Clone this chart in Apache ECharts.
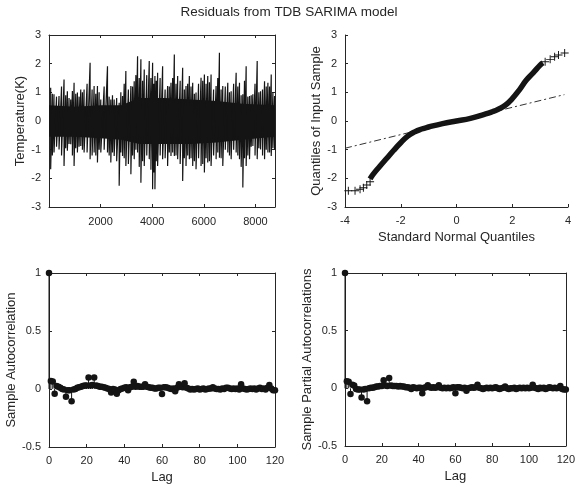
<!DOCTYPE html>
<html><head><meta charset="utf-8">
<script src="https://cdn.jsdelivr.net/npm/echarts@6/dist/echarts.min.js"></script>
<style>html,body{margin:0;padding:0;background:#fff}#c{width:578px;height:488px}</style>
</head><body><div id="c"></div>
<script>
// ---- Panel 1: residual time series (envelope) ----
const tsHour = [65,194,389,583,712,842,972,1101,1231,1360,1593,1749,1878,2008,2267,2396,2526,2720,2850,2979,3174,3303,3433,3562,3692,3886,4016,4106,4210,4404,4598,4728,4858,4987,5181,5311,5440,5570,5699,5894,6023,6153,6282,6477,6606,6736,6930,7060,7254,7383,7513,7642,7772,7902,8070,8199,8355,8485,8614,8744];
const tsHigh = [1.16,0.93,0.87,1.45,1.04,0.75,1.33,0.99,1.10,1.10,2.03,1.22,1.22,0.75,1.91,0.75,0.75,0.64,0.87,1.74,1.22,1.39,2.26,2.15,1.80,2.09,2.03,1.57,1.68,1.91,1.22,1.33,2.32,1.57,1.86,1.22,1.57,1.33,0.99,1.51,1.62,1.57,1.62,1.22,2.38,1.22,1.33,1.04,1.68,1.33,0.93,1.91,0.87,0.93,2.09,1.04,1.39,1.33,1.62,0.87];
const tsLow  = [-1.68,-1.10,-0.99,-1.57,-1.04,-0.81,-1.57,-1.10,-0.87,-1.10,-1.33,-1.10,-1.45,-1.10,-1.10,-1.45,-1.22,-2.26,-1.22,-1.57,-1.86,-1.33,-1.10,-2.15,-1.57,-1.33,-2.38,-2.38,-1.57,-1.33,-1.57,-1.22,-1.22,-1.33,-2.09,-1.57,-1.33,-1.57,-1.68,-1.57,-1.80,-1.45,-1.57,-1.33,-1.28,-1.57,-1.10,-1.33,-1.10,-1.33,-2.32,-1.57,-1.33,-0.87,-1.33,-0.99,-1.33,-1.10,-1.22,-0.99];
// secondary (smaller) spikes between the readings above
const tsMidHigh = [0.95,0.85,1.2,0.9,0.8,1.05,0.95,0.85,1.0,1.3,1.1,0.95,1.0,1.2,0.85,0.9,0.8,1.0,1.3,1.1,1.2,1.6,1.5,1.4,1.6,1.5,1.3,1.4,1.5,1.1,1.2,1.5,1.3,1.4,1.1,1.3,1.2,0.95,1.3,1.4,1.3,1.35,1.1,1.5,1.1,1.2,1.0,1.3,1.2,0.9,1.4,0.85,0.9,1.3,1.0,1.1,1.2,1.2,1.0];
const tsMidLow  = [-1.2,-0.9,-1.2,-0.95,-0.8,-1.2,-0.95,-0.9,-1.0,-1.1,-1.2,-1.2,-1.0,-1.0,-1.2,-1.1,-1.4,-1.1,-1.3,-1.5,-1.2,-1.0,-1.6,-1.4,-1.2,-1.7,-1.8,-1.4,-1.2,-1.3,-1.1,-1.1,-1.2,-1.5,-1.3,-1.2,-1.3,-1.4,-1.3,-1.5,-1.3,-1.4,-1.2,-1.1,-1.3,-1.0,-1.2,-1.0,-1.2,-1.6,-1.3,-1.2,-0.9,-1.2,-0.95,-1.2,-1.0,-1.1,-0.95];
const coreHour = [0,1000,2000,2800,3500,4500,5500,6500,7500,8760];
const coreHigh = [0.55,0.5,0.55,0.55,0.8,0.8,0.75,0.7,0.6,0.55];
const coreLow  = [-0.55,-0.55,-0.6,-0.65,-0.8,-0.8,-0.8,-0.75,-0.65,-0.55];

// ---- Panel 2: QQ plot ----
const qqX = [-3.1,-3.0,-2.75,-2.5,-2.25,-2.0,-1.75,-1.5,-1.25,-1.0,-0.5,0,0.5,1.0,1.25,1.5,1.75,2.0,2.25,2.5,2.75,3.0,3.1];
const qqY = [-2.02,-1.87,-1.58,-1.30,-1.02,-0.76,-0.53,-0.38,-0.28,-0.21,-0.09,0.0,0.09,0.23,0.31,0.41,0.55,0.78,1.08,1.42,1.68,1.95,2.03];
const qqTailX = [-3.88,-3.64,-3.46,-3.34,-3.22,-3.10,3.18,3.36,3.52,3.66,3.88];
const qqTailY = [-2.43,-2.43,-2.38,-2.33,-2.23,-2.12,2.07,2.15,2.24,2.30,2.37];
const refX = [-4,3.87];
const refY = [-0.95,0.92];

// ---- Panels 3/4: ACF and PACF, lags 0..120 ----
const acf = [1,0.068,0.065,-0.04,0.025,0.02,0.01,0.0,-0.005,-0.067,-0.01,-0.01,-0.105,-0.005,0.0,0.01,0.015,0.02,0.025,0.03,0.03,0.10,0.03,0.035,0.10,0.03,0.025,0.02,0.02,0.015,0.01,0.005,0.0,-0.03,0.0,-0.005,-0.04,-0.01,0.0,0.005,0.01,0.015,-0.01,0.015,0.02,0.063,0.02,0.025,0.02,0.02,0.02,0.04,0.02,0.015,0.01,0.01,0.005,0.005,0.01,0.01,-0.043,0.015,0.015,0.01,0.005,0.0,0.005,-0.02,0.01,0.04,0.02,0.015,0.05,0.01,0.005,-0.005,0.0,-0.005,0.0,0.005,-0.005,0.0,0.005,-0.005,0.0,0.005,0.005,0.015,0.005,0.0,0.0,-0.005,0.005,0.0,0.01,0.01,0.005,0.0,0.005,0.0,0.005,-0.005,0.04,0.005,0.0,-0.005,0.0,0.005,0.0,0.005,-0.005,0.005,0.01,0.0,0.005,-0.005,0.01,0.035,0.005,-0.01,-0.01];
const pacf = [1,0.062,0.058,-0.05,0.03,0.025,-0.005,-0.01,-0.01,-0.08,-0.01,-0.005,-0.112,0.0,0.005,0.005,0.01,0.015,0.015,0.02,0.02,0.07,0.025,0.02,0.09,0.025,0.02,0.02,0.02,0.015,0.02,0.015,0.015,0.01,0.01,0.005,-0.005,0.01,0.005,0.0,0.005,0.005,-0.043,0.005,0.01,0.027,0.01,0.005,0.01,0.005,0.01,0.027,0.005,0.0,0.005,0.0,0.005,0.0,0.005,0.01,-0.043,0.01,0.01,0.005,0.0,0.005,-0.02,0.0,0.005,0.01,0.005,0.01,0.03,0.005,0.0,-0.005,0.0,0.005,0.0,0.005,0.0,0.005,0.01,0.0,-0.005,0.0,0.005,0.015,0.0,-0.005,0.0,0.0,0.005,-0.005,0.0,0.005,0.0,0.005,0.0,0.005,0.0,0.005,0.03,0.005,0.0,-0.005,0.005,0.0,0.005,-0.005,0.0,0.01,0.005,0.0,0.005,0.0,0.005,0.02,-0.005,-0.01,-0.01];

// ---- build ----
const FONT = 'Liberation Sans, Arial, Helvetica, sans-serif';
const TC = '#262626';
const DK = '#141414';
const tsLine = [];
tsHour.forEach((h,i)=>{
  tsLine.push([h,tsHigh[i]]); tsLine.push([h,tsLow[i]]);
  if (i < tsHour.length-1) {
    const m = (h + tsHour[i+1]) / 2;
    tsLine.push([m,tsMidHigh[i]]); tsLine.push([m,tsMidLow[i]]);
  }
});
const coreHi = coreHour.map((h,i)=>[h,coreHigh[i]]);
const coreLo = coreHour.map((h,i)=>[h,coreLow[i]]);
const qqCurve = qqX.map((x,i)=>[x,qqY[i]]);
const qqTail = qqTailX.map((x,i)=>[x,qqTailY[i]]);
const refLine = refX.map((x,i)=>[x,refY[i]]);
const acfPts = acf.map((v,i)=>[i,v]);
const pacfPts = pacf.map((v,i)=>[i,v]);
const CROSS = 'path://M0,4.4H10V5.6H0Z M4.4,0H5.6V10H4.4Z';
const plainFmt = v => String(v);

function axisBase(extra){
  return Object.assign({
    axisLine:{show:true,onZero:false,lineStyle:{color:TC,width:1}},
    axisTick:{show:true,inside:true,length:3,lineStyle:{color:TC}},
    axisLabel:{color:TC,fontSize:11,fontFamily:FONT,formatter:plainFmt},
    splitLine:{show:false},
    nameTextStyle:{color:TC,fontSize:13,fontFamily:FONT},
    nameLocation:'middle'
  }, extra);
}
function mirror(type,gi,min,max,interval){
  return axisBase({type:'value',gridIndex:gi,min,max,interval,position:type==='x'?'top':'right',axisLabel:{show:false}});
}
const grids = [
  {left:49,top:35,width:226,height:172},
  {left:345,top:35,width:223,height:172},
  {left:49,top:273,width:226,height:174},
  {left:345,top:273,width:224,height:173}
];
const stem = (xi,yi,pts)=>({
  type:'custom', xAxisIndex:xi, yAxisIndex:yi, data:pts,
  renderItem:(params,api)=>{
    const a = api.coord([api.value(0),0]);
    const b = api.coord([api.value(0),api.value(1)]);
    return {type:'line',shape:{x1:a[0],y1:a[1],x2:b[0],y2:b[1]},style:{stroke:DK,lineWidth:1}};
  }
});
const option = {
  animation:false,
  backgroundColor:'#fff',
  title:{text:'Residuals from TDB SARIMA model',left:'center',top:0,textStyle:{color:TC,fontSize:13.5,fontWeight:'normal',fontFamily:FONT}},
  grid:grids,
  xAxis:[
    axisBase({type:'value',gridIndex:0,min:0,max:8760,interval:2000,axisLabel:{color:TC,fontSize:11,fontFamily:FONT,formatter:plainFmt,showMinLabel:false,showMaxLabel:false,margin:9}}),
    mirror('x',0,0,8760,2000),
    axisBase({type:'value',gridIndex:1,min:-4,max:4,interval:2,name:'Standard Normal Quantiles',nameGap:24}),
    axisBase({type:'value',gridIndex:2,min:0,max:120,interval:20,name:'Lag',nameGap:24}),
    mirror('x',2,0,120,20),
    axisBase({type:'value',gridIndex:3,min:0,max:120,interval:20,name:'Lag',nameGap:24}),
    mirror('x',3,0,120,20)
  ],
  yAxis:[
    axisBase({type:'value',gridIndex:0,min:-3,max:3,interval:1,name:'Temperature(K)',nameGap:14}),
    mirror('y',0,-3,3,1),
    axisBase({type:'value',gridIndex:1,min:-3,max:3,interval:1,name:'Quantiles of Input Sample',nameGap:15}),
    axisBase({type:'value',gridIndex:2,min:-0.5,max:1,interval:0.5,name:'Sample Autocorrelation',nameGap:27}),
    mirror('y',2,-0.5,1,0.5),
    axisBase({type:'value',gridIndex:3,min:-0.5,max:1,interval:0.5,name:'Sample Partial Autocorrelations',nameGap:27}),
    mirror('y',3,-0.5,1,0.5)
  ],
  series:[
    {type:'line',xAxisIndex:0,yAxisIndex:0,data:coreHi,symbol:'none',lineStyle:{width:0},areaStyle:{color:DK,opacity:1,origin:0}},
    {type:'line',xAxisIndex:0,yAxisIndex:0,data:coreLo,symbol:'none',lineStyle:{width:0},areaStyle:{color:DK,opacity:1,origin:0}},
    {type:'line',xAxisIndex:0,yAxisIndex:0,data:tsLine,symbol:'none',lineStyle:{color:DK,width:1.2}},
    {type:'line',xAxisIndex:2,yAxisIndex:2,data:refLine,symbol:'none',lineStyle:{color:'#333',width:1,type:[7,3,2,3]}},
    {type:'line',xAxisIndex:2,yAxisIndex:2,data:qqCurve,symbol:'none',smooth:true,lineStyle:{color:DK,width:5.5}},
    {type:'scatter',xAxisIndex:2,yAxisIndex:2,data:qqTail,symbol:CROSS,symbolSize:8,itemStyle:{color:DK,opacity:1}},
    stem(3,3,acfPts),
    {type:'scatter',xAxisIndex:3,yAxisIndex:3,data:acfPts,symbolSize:6.5,itemStyle:{color:DK,opacity:1}},
    stem(5,5,pacfPts),
    {type:'scatter',xAxisIndex:5,yAxisIndex:5,data:pacfPts,symbolSize:6.5,itemStyle:{color:DK,opacity:1}}
  ]
};
const chart = echarts.init(document.getElementById('c'),null,{renderer:'canvas',width:578,height:488});
chart.setOption(option);
</script></body></html>
